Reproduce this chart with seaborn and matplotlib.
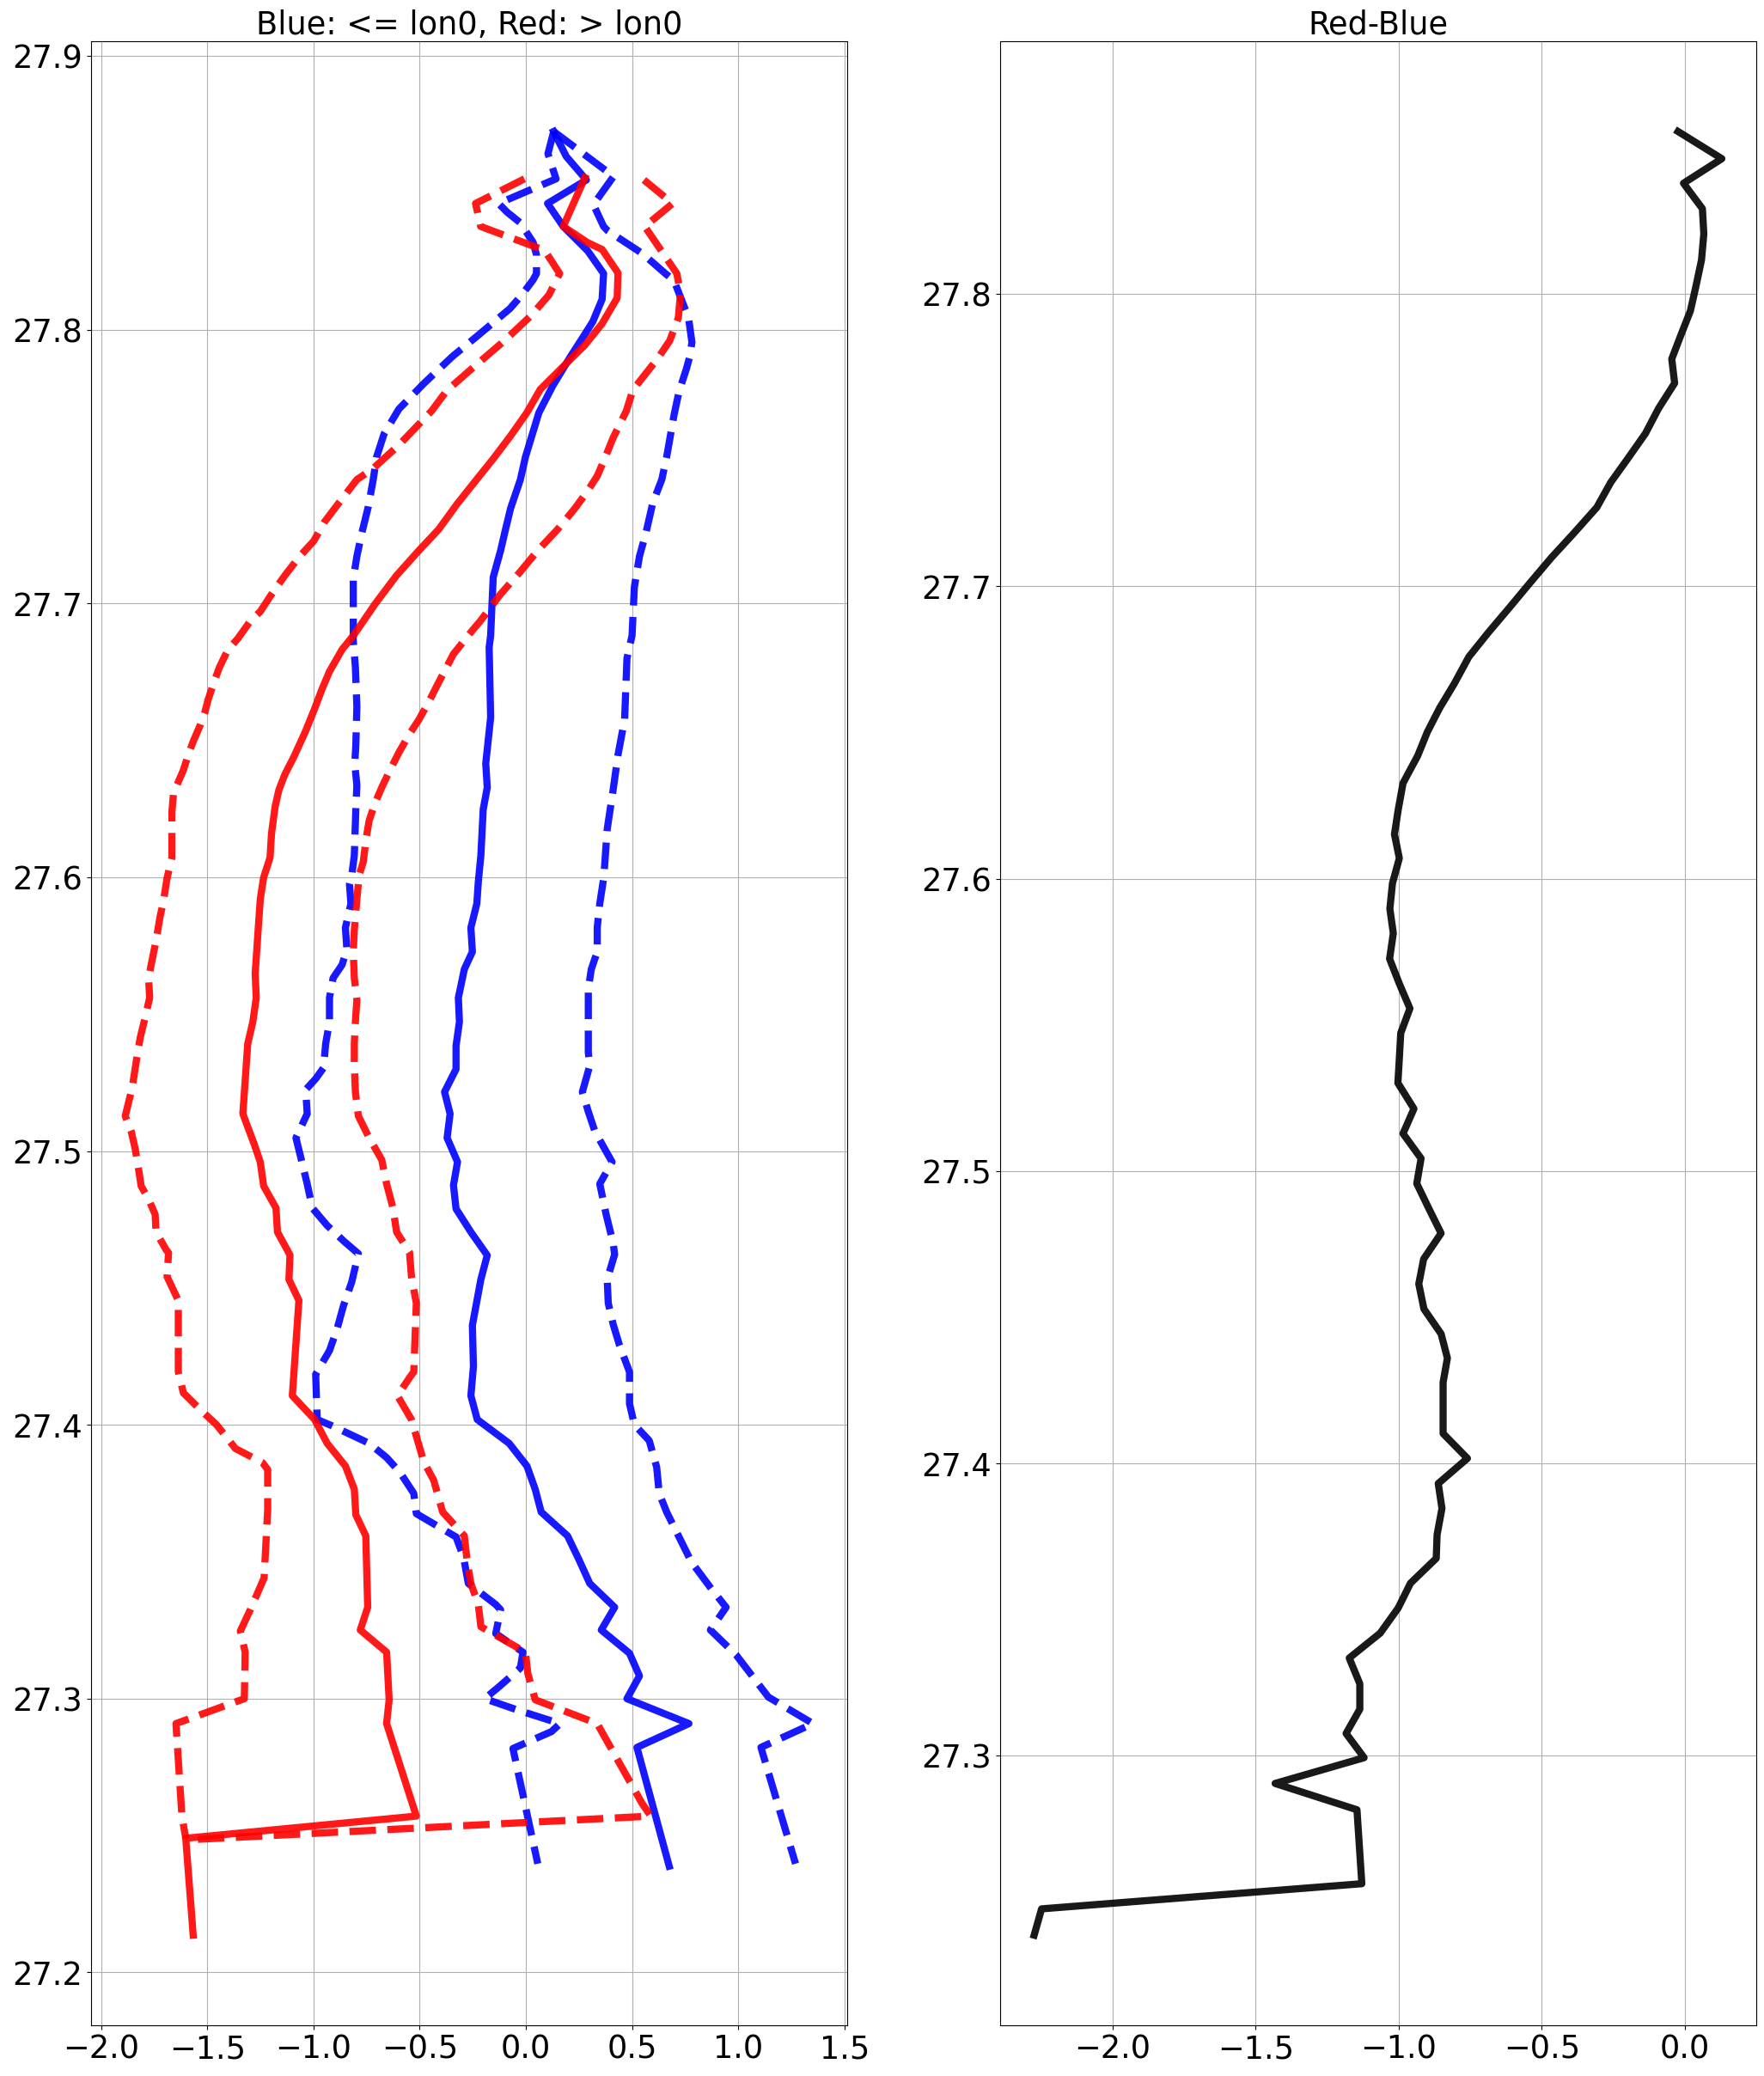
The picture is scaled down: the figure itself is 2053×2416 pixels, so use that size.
import matplotlib

matplotlib.use("Agg")
import matplotlib.pyplot as plt
from matplotlib.ticker import MultipleLocator
import seaborn as sns

# Perfiles azules (<= lon0): media, media+std, media-std
blue_mean_y = [27.8725, 27.8634, 27.8548, 27.8462, 27.8378, 27.8289, 27.8206, 27.8112, 27.8030, 27.7970,
               27.7900, 27.7795, 27.7697, 27.7536, 27.7453, 27.7348, 27.7271, 27.7194, 27.7096, 27.6883,
               27.6840, 27.6584, 27.6416, 27.6328, 27.6248, 27.6080, 27.5984, 27.5904, 27.5816, 27.5728,
               27.5664, 27.5560, 27.5472, 27.5384, 27.5299, 27.5216, 27.5136, 27.5048, 27.4960, 27.4875,
               27.4789, 27.4704, 27.4619, 27.4531, 27.4363, 27.4213, 27.4106, 27.4019, 27.3932, 27.3849,
               27.3764, 27.3681, 27.3594, 27.3507, 27.3420, 27.3333, 27.3250, 27.3165, 27.3082, 27.2999,
               27.2908, 27.2821, 27.2387]
blue_mean_x = [0.131, 0.190, 0.285, 0.102, 0.176, 0.291, 0.366, 0.359, 0.315, 0.266,
               0.208, 0.126, 0.061, -0.002, -0.026, -0.072, -0.096, -0.119, -0.154, -0.166,
               -0.173, -0.166, -0.189, -0.182, -0.201, -0.212, -0.224, -0.231, -0.259, -0.252,
               -0.290, -0.318, -0.313, -0.329, -0.329, -0.383, -0.357, -0.371, -0.322, -0.341,
               -0.329, -0.259, -0.182, -0.212, -0.252, -0.247, -0.259, -0.229, -0.079, 0.005,
               0.044, 0.072, 0.196, 0.250, 0.301, 0.418, 0.355, 0.488, 0.535, 0.476,
               0.768, 0.523, 0.675]

blue_hi_y = [27.8725, 27.8561, 27.8458, 27.8378, 27.8362, 27.8279, 27.8206, 27.8180, 27.8044, 27.7955,
             27.7903, 27.7858, 27.7774, 27.7690, 27.7536, 27.7453, 27.7369, 27.7257, 27.7173, 27.7061,
             27.6883, 27.6800, 27.6576, 27.6448, 27.6320, 27.6176, 27.6000, 27.5904, 27.5816, 27.5728,
             27.5664, 27.5592, 27.5360, 27.5312, 27.5216, 27.5144, 27.5072, 27.5008, 27.4960, 27.4880,
             27.4768, 27.4664, 27.4622, 27.4531, 27.4444, 27.4367, 27.4290, 27.4193, 27.4077, 27.4000,
             27.3942, 27.3845, 27.3749, 27.3681, 27.3498, 27.3401, 27.3333, 27.3250, 27.3159, 27.3005,
             27.2908, 27.2821, 27.2396]
blue_hi_x = [0.131, 0.413, 0.318, 0.366, 0.386, 0.549, 0.657, 0.698, 0.766, 0.782,
             0.772, 0.756, 0.721, 0.698, 0.663, 0.640, 0.598, 0.565, 0.535, 0.511,
             0.500, 0.476, 0.465, 0.434, 0.411, 0.383, 0.367, 0.348, 0.336, 0.336,
             0.308, 0.294, 0.294, 0.301, 0.266, 0.294, 0.325, 0.371, 0.406, 0.348,
             0.378, 0.411, 0.418, 0.383, 0.388, 0.411, 0.441, 0.488, 0.488, 0.511,
             0.581, 0.616, 0.628, 0.663, 0.780, 0.873, 0.943, 0.869, 0.990, 1.142,
             1.352, 1.107, 1.270]

blue_lo_y = [27.8725, 27.8644, 27.8552, 27.8462, 27.8430, 27.8392, 27.8320, 27.8274, 27.8206, 27.8183,
             27.8127, 27.8078, 27.7981, 27.7903, 27.7804, 27.7711, 27.7620, 27.7536, 27.7453, 27.7355,
             27.7257, 27.7173, 27.7089, 27.6883, 27.6864, 27.6768, 27.6624, 27.6480, 27.6416, 27.6336,
             27.6248, 27.6080, 27.6008, 27.5976, 27.5904, 27.5816, 27.5736, 27.5680, 27.5632, 27.5560,
             27.5472, 27.5392, 27.5304, 27.5264, 27.5224, 27.5136, 27.5048, 27.4976, 27.4880, 27.4792,
             27.4728, 27.4669, 27.4625, 27.4522, 27.4435, 27.4348, 27.4271, 27.4184, 27.4019, 27.3996,
             27.3932, 27.3880, 27.3826, 27.3749, 27.3675, 27.3590, 27.3517, 27.3420, 27.3343, 27.3324,
             27.3237, 27.3169, 27.3111, 27.3043, 27.2999, 27.2957, 27.2908, 27.2879, 27.2817, 27.2396]
blue_lo_x = [0.131, 0.104, 0.142, -0.129, -0.088, -0.027, 0.034, 0.050, 0.050, 0.034,
             -0.020, -0.075, -0.224, -0.346, -0.481, -0.598, -0.668, -0.703, -0.719, -0.742,
             -0.773, -0.796, -0.813, -0.813, -0.813, -0.803, -0.796, -0.801, -0.806, -0.796,
             -0.801, -0.808, -0.820, -0.831, -0.824, -0.850, -0.843, -0.866, -0.908, -0.925,
             -0.925, -0.943, -0.953, -0.990, -1.037, -1.030, -1.083, -1.060, -1.030, -1.006,
             -0.936, -0.855, -0.789, -0.820, -0.859, -0.890, -0.925, -0.990, -0.983, -0.913,
             -0.738, -0.656, -0.593, -0.528, -0.516, -0.329, -0.294, -0.271, -0.142, -0.119,
             -0.142, -0.014, -0.026, -0.126, -0.194, -0.037, 0.161, 0.121, -0.061, 0.056]

# Perfiles rojos (> lon0)
red_mean_y = [27.8556, 27.8462, 27.8378, 27.8319, 27.8294, 27.8208, 27.8117, 27.8023, 27.7945, 27.7882,
              27.7783, 27.7697, 27.7613, 27.7529, 27.7439, 27.7366, 27.7271, 27.7194, 27.7103, 27.6999,
              27.6888, 27.6832, 27.6752, 27.6688, 27.6616, 27.6528, 27.6440, 27.6376, 27.6320, 27.6259,
              27.6160, 27.6072, 27.6000, 27.5920, 27.5808, 27.5648, 27.5560, 27.5472, 27.5392, 27.5136,
              27.5088, 27.5024, 27.4960, 27.4872, 27.4792, 27.4704, 27.4620, 27.4531, 27.4454, 27.4106,
              27.4019, 27.3932, 27.3849, 27.3764, 27.3671, 27.3594, 27.3333, 27.3250, 27.3169, 27.2995,
              27.2908, 27.2570, 27.2489, 27.2135]
red_mean_x = [0.278, 0.224, 0.176, 0.291, 0.359, 0.434, 0.430, 0.359, 0.278, 0.196,
              0.068, 0.004, -0.072, -0.154, -0.247, -0.322, -0.411, -0.504, -0.609, -0.710,
              -0.808, -0.866, -0.925, -0.960, -0.995, -1.041, -1.093, -1.135, -1.163, -1.181,
              -1.198, -1.205, -1.235, -1.251, -1.261, -1.275, -1.270, -1.286, -1.310, -1.333,
              -1.310, -1.279, -1.251, -1.235, -1.177, -1.170, -1.111, -1.116, -1.069, -1.100,
              -0.995, -0.936, -0.850, -0.808, -0.801, -0.754, -0.745, -0.780, -0.656, -0.644,
              -0.656, -0.516, -1.602, -1.567]

red_hi_y = [27.8548, 27.8462, 27.8378, 27.8206, 27.8133, 27.8044, 27.7960, 27.7898, 27.7822, 27.7781,
            27.7704, 27.7606, 27.7529, 27.7466, 27.7411, 27.7348, 27.7271, 27.7194, 27.7117, 27.7034,
            27.6936, 27.6904, 27.6816, 27.6712, 27.6640, 27.6576, 27.6520, 27.6456, 27.6392, 27.6328,
            27.6272, 27.6208, 27.6144, 27.6056, 27.6008, 27.5920, 27.5808, 27.5728, 27.5632, 27.5552,
            27.5472, 27.5392, 27.5312, 27.5216, 27.5128, 27.5048, 27.4968, 27.4880, 27.4792, 27.4704,
            27.4630, 27.4541, 27.4444, 27.4193, 27.4174, 27.4106, 27.4019, 27.3865, 27.3797, 27.3681,
            27.3594, 27.3498, 27.3420, 27.3343, 27.3262, 27.3169, 27.3092, 27.2995, 27.2908, 27.2618,
            27.2570, 27.2483]
red_hi_x = [0.556, 0.691, 0.560, 0.711, 0.728, 0.718, 0.677, 0.623, 0.546, 0.504,
            0.473, 0.411, 0.371, 0.336, 0.290, 0.231, 0.149, 0.056, -0.026, -0.120,
            -0.215, -0.250, -0.341, -0.411, -0.458, -0.504, -0.551, -0.598, -0.640, -0.679,
            -0.710, -0.738, -0.752, -0.766, -0.785, -0.796, -0.808, -0.813, -0.808, -0.796,
            -0.803, -0.808, -0.808, -0.803, -0.789, -0.738, -0.679, -0.656, -0.626, -0.609,
            -0.548, -0.539, -0.516, -0.528, -0.546, -0.605, -0.539, -0.481, -0.434, -0.392,
            -0.290, -0.276, -0.259, -0.224, -0.212, -0.002, 0.009, 0.044, 0.336, 0.546,
            0.588, -1.602]

red_lo_y = [27.8552, 27.8462, 27.8378, 27.8291, 27.8206, 27.8127, 27.8049, 27.7960, 27.7861, 27.7778,
            27.7704, 27.7578, 27.7494, 27.7453, 27.7383, 27.7299, 27.7229, 27.7173, 27.7103, 27.7040,
            27.6971, 27.6936, 27.6872, 27.6832, 27.6768, 27.6704, 27.6648, 27.6600, 27.6552, 27.6496,
            27.6448, 27.6392, 27.6336, 27.6304, 27.6240, 27.6072, 27.5997, 27.5912, 27.5856, 27.5768,
            27.5680, 27.5632, 27.5560, 27.5488, 27.5416, 27.5328, 27.5232, 27.5128, 27.5072, 27.5008,
            27.4928, 27.4872, 27.4824, 27.4768, 27.4704, 27.4640, 27.4628, 27.4541, 27.4454, 27.4193,
            27.4116, 27.4054, 27.4000, 27.3913, 27.3861, 27.3836, 27.3691, 27.3440, 27.3324, 27.3246,
            27.3169, 27.2999, 27.2908, 27.2570, 27.2489]
red_lo_x = [-0.007, -0.237, -0.213, 0.088, 0.159, 0.108, 0.020, -0.102, -0.251, -0.373,
            -0.444, -0.600, -0.719, -0.796, -0.866, -0.948, -0.999, -1.065, -1.135, -1.193,
            -1.251, -1.298, -1.357, -1.403, -1.443, -1.473, -1.497, -1.513, -1.536, -1.567,
            -1.590, -1.613, -1.644, -1.660, -1.667, -1.667, -1.690, -1.707, -1.723, -1.742,
            -1.765, -1.777, -1.772, -1.793, -1.816, -1.835, -1.854, -1.887, -1.859, -1.840,
            -1.823, -1.812, -1.777, -1.746, -1.742, -1.695, -1.683, -1.690, -1.637, -1.637,
            -1.613, -1.532, -1.457, -1.368, -1.240, -1.216, -1.216, -1.233, -1.298, -1.345,
            -1.322, -1.326, -1.648, -1.620, -1.602]

# Diferencia rojo - azul
diff_y = [27.8556, 27.8463, 27.8379, 27.8292, 27.8206, 27.8117, 27.8029, 27.7942, 27.7860, 27.7778,
          27.7695, 27.7609, 27.7523, 27.7438, 27.7356, 27.7270, 27.7181, 27.7099, 27.7010, 27.6930,
          27.6842, 27.6759, 27.6667, 27.6584, 27.6502, 27.6420, 27.6327, 27.6235, 27.6152, 27.6070,
          27.5984, 27.5897, 27.5813, 27.5726, 27.5641, 27.5556, 27.5472, 27.5384, 27.5301, 27.5213,
          27.5128, 27.5043, 27.4957, 27.4872, 27.4787, 27.4699, 27.4614, 27.4528, 27.4443, 27.4360,
          27.4277, 27.4194, 27.4102, 27.4017, 27.3931, 27.3846, 27.3756, 27.3675, 27.3590, 27.3505,
          27.3419, 27.3334, 27.3246, 27.3159, 27.3076, 27.2993, 27.2905, 27.2815, 27.2562, 27.2476,
          27.2386]
diff_x = [-0.024, 0.129, -0.005, 0.061, 0.066, 0.058, 0.039, 0.019, -0.014, -0.046,
          -0.036, -0.092, -0.138, -0.199, -0.259, -0.308, -0.389, -0.466, -0.543, -0.611,
          -0.687, -0.755, -0.806, -0.857, -0.900, -0.934, -0.985, -1.002, -1.015, -0.998,
          -1.022, -1.031, -1.019, -1.032, -0.998, -0.961, -0.993, -0.998, -1.003, -0.947,
          -0.985, -0.922, -0.937, -0.895, -0.852, -0.913, -0.930, -0.912, -0.852, -0.830,
          -0.845, -0.845, -0.845, -0.760, -0.862, -0.849, -0.866, -0.869, -0.959, -1.002,
          -1.065, -1.173, -1.136, -1.136, -1.184, -1.121, -1.432, -1.146, -1.129, -2.248,
          -2.274]

FS = 26.5
LW = 6

fig, (ax1, ax2) = plt.subplots(1, 2, figsize=(20.53, 24.16), dpi=100)
fig.subplots_adjust(left=0.0515, right=0.9956, bottom=0.0244, top=0.9801, wspace=0.2015)

perfiles = [
    (blue_mean_x, blue_mean_y, "b", "-"),
    (blue_hi_x, blue_hi_y, "b", "--"),
    (blue_lo_x, blue_lo_y, "b", "--"),
    (red_mean_x, red_mean_y, "r", "-"),
    (red_hi_x, red_hi_y, "r", "--"),
    (red_lo_x, red_lo_y, "r", "--"),
]
for xs, ys, col, ls in perfiles:
    sns.lineplot(x=xs, y=ys, sort=False, estimator=None, ax=ax1,
                 color=col, linestyle=ls, linewidth=LW, alpha=0.9)
ax1.set_title("Blue: <= lon0, Red: > lon0", fontsize=FS)

sns.lineplot(x=diff_x, y=diff_y, sort=False, estimator=None, ax=ax2,
             color="k", linewidth=LW, alpha=0.9)
ax2.set_title("Red-Blue", fontsize=FS)

for ax in (ax1, ax2):
    ax.xaxis.set_major_locator(MultipleLocator(0.5))
    ax.grid(True)
    ax.tick_params(labelsize=FS)

fig.savefig("out.png", dpi=100)
